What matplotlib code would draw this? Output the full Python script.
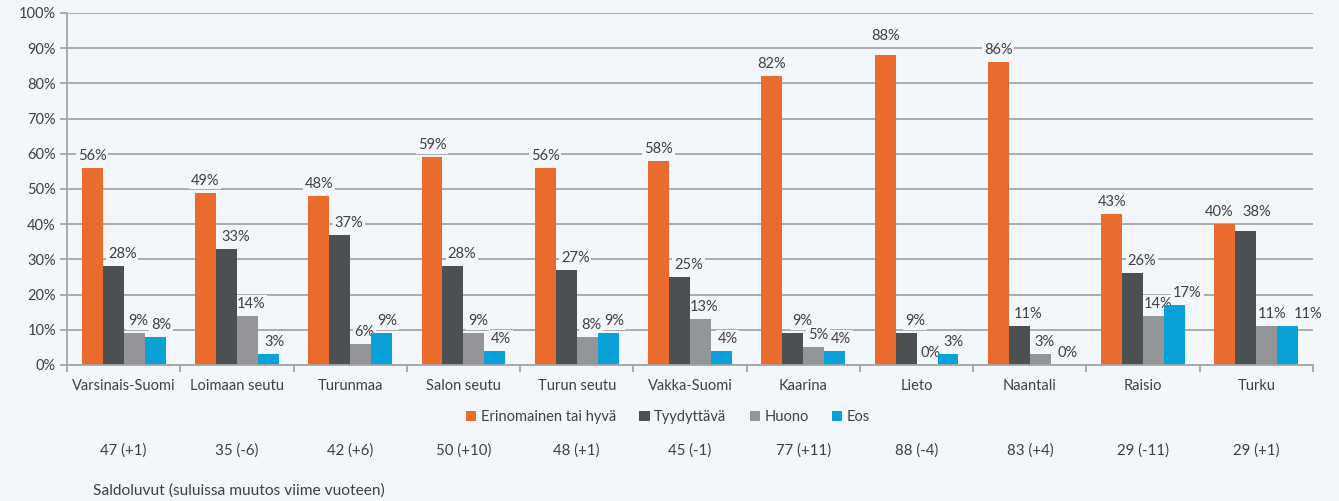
import matplotlib
matplotlib.use("Agg")
import matplotlib.pyplot as plt
import numpy as np
from matplotlib.patches import Patch
import matplotlib.transforms as mtransforms

categories = ["Varsinais-Suomi", "Loimaan seutu", "Turunmaa", "Salon seutu", "Turun seutu",
              "Vakka-Suomi", "Kaarina", "Lieto", "Naantali", "Raisio", "Turku"]
series_names = ["Erinomainen tai hyvä", "Tyydyttävä", "Huono", "Eos"]
erinomainen = [56, 49, 48, 59, 56, 58, 82, 88, 86, 43, 40]
tyydyttava = [28, 33, 37, 28, 27, 25, 9, 9, 11, 26, 38]
huono = [9, 14, 6, 9, 8, 13, 5, 0, 3, 14, 11]
eos = [8, 3, 9, 4, 9, 4, 4, 3, 0, 17, 11]
saldo = ["47 (+1)", "35 (-6)", "42 (+6)", "50 (+10)", "48 (+1)", "45 (-1)",
         "77 (+11)", "88 (-4)", "83 (+4)", "29 (-11)", "29 (+1)"]
footnote = "Saldoluvut (suluissa muutos viime vuoteen)"
yticks = [0, 10, 20, 30, 40, 50, 60, 70, 80, 90, 100]

colors = ["#E96C2E", "#4D5053", "#939598", "#0AA0D8"]
bg = "#F3F6FA"
txt = "#404040"
plt.rcParams['font.family'] = ['Lato', 'DejaVu Sans']

# label placement (pixels): default horizontal shift per series, plus a few manual nudges
series_dx = [0, 9, 4, 6]
nudge = {(0, 10): (-6, 0), (1, 10): (2, 7), (2, 10): (1, 0), (3, 10): (14, 0),
         (3, 9): (7, 0), (0, 7): (0, 7)}

fig = plt.figure(figsize=(13.39, 5.01), dpi=100, facecolor=bg)
ax = fig.add_axes([67/1339, 1-365/501, (1313-67)/1339, (365-13)/501])
ax.set_facecolor(bg)

n = len(categories)
x = np.arange(n)
bw = 0.185
data = [erinomainen, tyydyttava, huono, eos]
px2pt = 72 / 100
for i, (vals, c) in enumerate(zip(data, colors)):
    xs = x + (i - 1.5) * bw
    ax.bar(xs, vals, width=bw, color=c, zorder=3, linewidth=0)
    for j, (xv, v) in enumerate(zip(xs, vals)):
        ddx, ddy = nudge.get((i, j), (0, 0))
        dx = (series_dx[i] + ddx) * px2pt
        dy = (8 + ddy) * px2pt
        ax.annotate(f"{v}%", (xv, v), xytext=(dx, dy), textcoords="offset points",
                    ha="center", va="baseline", fontsize=10.5, color=txt, zorder=2,
                    bbox=dict(boxstyle="square,pad=0.12", fc=bg, ec="none"))

ax.set_xlim(-0.5, n - 0.5)
ax.set_ylim(0, 100)
ax.set_yticks(yticks)
ax.set_yticklabels([f"{t}%" for t in yticks], fontsize=10.5, color=txt)
ax.yaxis.grid(True, color="#A6A6A6", linewidth=1.3, zorder=0)
ax.set_axisbelow(True)
ax.tick_params(axis="y", length=5, color="#A6A6A6", width=1.3, pad=3)
ax.set_xticks(np.arange(n + 1) - 0.5, minor=False)
ax.set_xticklabels([])
ax.tick_params(axis="x", length=5, color="#A6A6A6", width=1.3)
ax.set_xticks(x, minor=True)
ax.set_xticklabels(categories, minor=True, fontsize=10.5, color=txt)
ax.tick_params(axis="x", which="minor", length=0, pad=10)
for s in ["top", "right"]:
    ax.spines[s].set_visible(False)
for s in ["left", "bottom"]:
    ax.spines[s].set_color("#A6A6A6")
    ax.spines[s].set_linewidth(1.3)
    ax.spines[s].set_zorder(4)

trans = mtransforms.blended_transform_factory(ax.transData, fig.transFigure)
for xv, s in zip(x, saldo):
    ax.text(xv, 1 - 451/501, s, transform=trans, ha="center", va="center",
            fontsize=10.8, color=txt)
fig.text(93/1339, 1 - 491/501, footnote, ha="left", va="center", fontsize=11.2, color=txt)

handles = [Patch(facecolor=c, edgecolor="none") for c in colors]
fig.legend(handles, series_names, loc="center", bbox_to_anchor=(668/1339, 1 - 417/501),
           ncol=4, frameon=False, fontsize=10.5, handlelength=0.7, handleheight=0.7,
           handletextpad=0.3, columnspacing=1.6, labelcolor=txt)

fig.savefig("out.png", dpi=100, facecolor=bg)
